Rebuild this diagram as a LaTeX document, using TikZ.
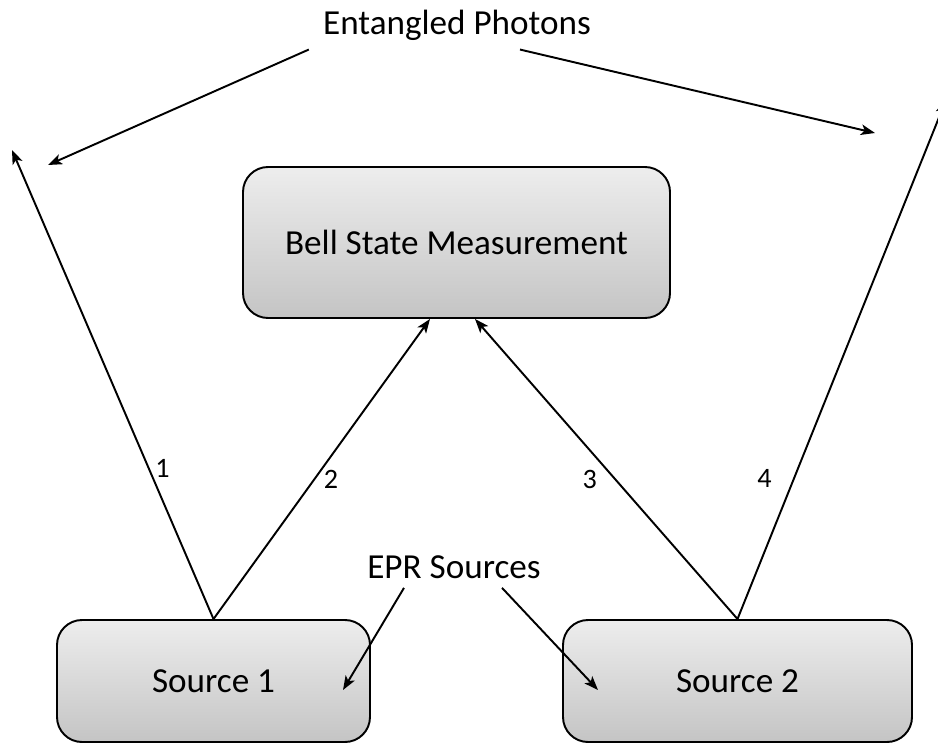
\documentclass[tikz,border=0pt]{standalone}
\usepackage{fontspec}
\setmainfont{Carlito}
\usepackage{tikz}
\usetikzlibrary{positioning, arrows.meta}

\begin{document}
\begin{tikzpicture}[font=\fontsize{20}{24}\selectfont, line width=1.1pt,
    >={Stealth[length=8pt, width=6pt, inset=2pt]},
    box/.style={draw, rounded corners=0.5cm, top color=black!7, bottom color=black!23, align=center},
    num/.style={font=\fontsize{16}{19}\selectfont, inner sep=2pt}]
      \useasboundingbox (0,0) rectangle (18.76,14.88);

      \node[box, minimum width=8.54cm, minimum height=3.02cm]  (BSM)  at ( 9.13, 10.03)  {Bell State Measurement};
      \node[box, minimum width=6.26cm, minimum height=2.44cm]  (S1)   at ( 4.27,  1.26)  {Source 1};
      \node[box, minimum width=6.98cm, minimum height=2.44cm]  (S2)   at (14.75,  1.26)  {Source 2};

      \node (EP)   at (9.14, 14.38)  {Entangled Photons};
      \node (EPR)  at (9.08,  3.54)  {EPR Sources};

      \coordinate (P1)  at ( 0.24, 11.88);
      \coordinate (P4)  at (18.92, 12.88);
      \coordinate (EL)  at ( 0.96, 11.58);
      \coordinate (ER)  at (17.50, 12.22);

      \draw[->] (S1.north) -- (P1)                 node[num, pos=0.32, right=1pt]  {1};
      \draw[->] (S1.north) -- ([xshift=-0.53cm]BSM.south) node[num, pos=0.465, right=3pt] {2};
      \draw[->] (S2.north) -- ([xshift=0.37cm]BSM.south)  node[num, pos=0.465, left=8pt]  {3};
      \draw[->] (S2.north) -- (P4)                 node[num, pos=0.27, left=10pt] {4};

      \draw[->] ([shift={(-0.15,-0.05)}]EP.south west) -- (EL);
      \draw[->] ([shift={(1.26,-0.05)}]EP.south) -- (ER);

      \draw[->] ([shift={(-1.0,-0.05)}]EPR.south) -- (6.86, 1.08);
      \draw[->] ([shift={(0.96,-0.05)}]EPR.south) -- (11.96, 1.08);
\end{tikzpicture}
\end{document}
